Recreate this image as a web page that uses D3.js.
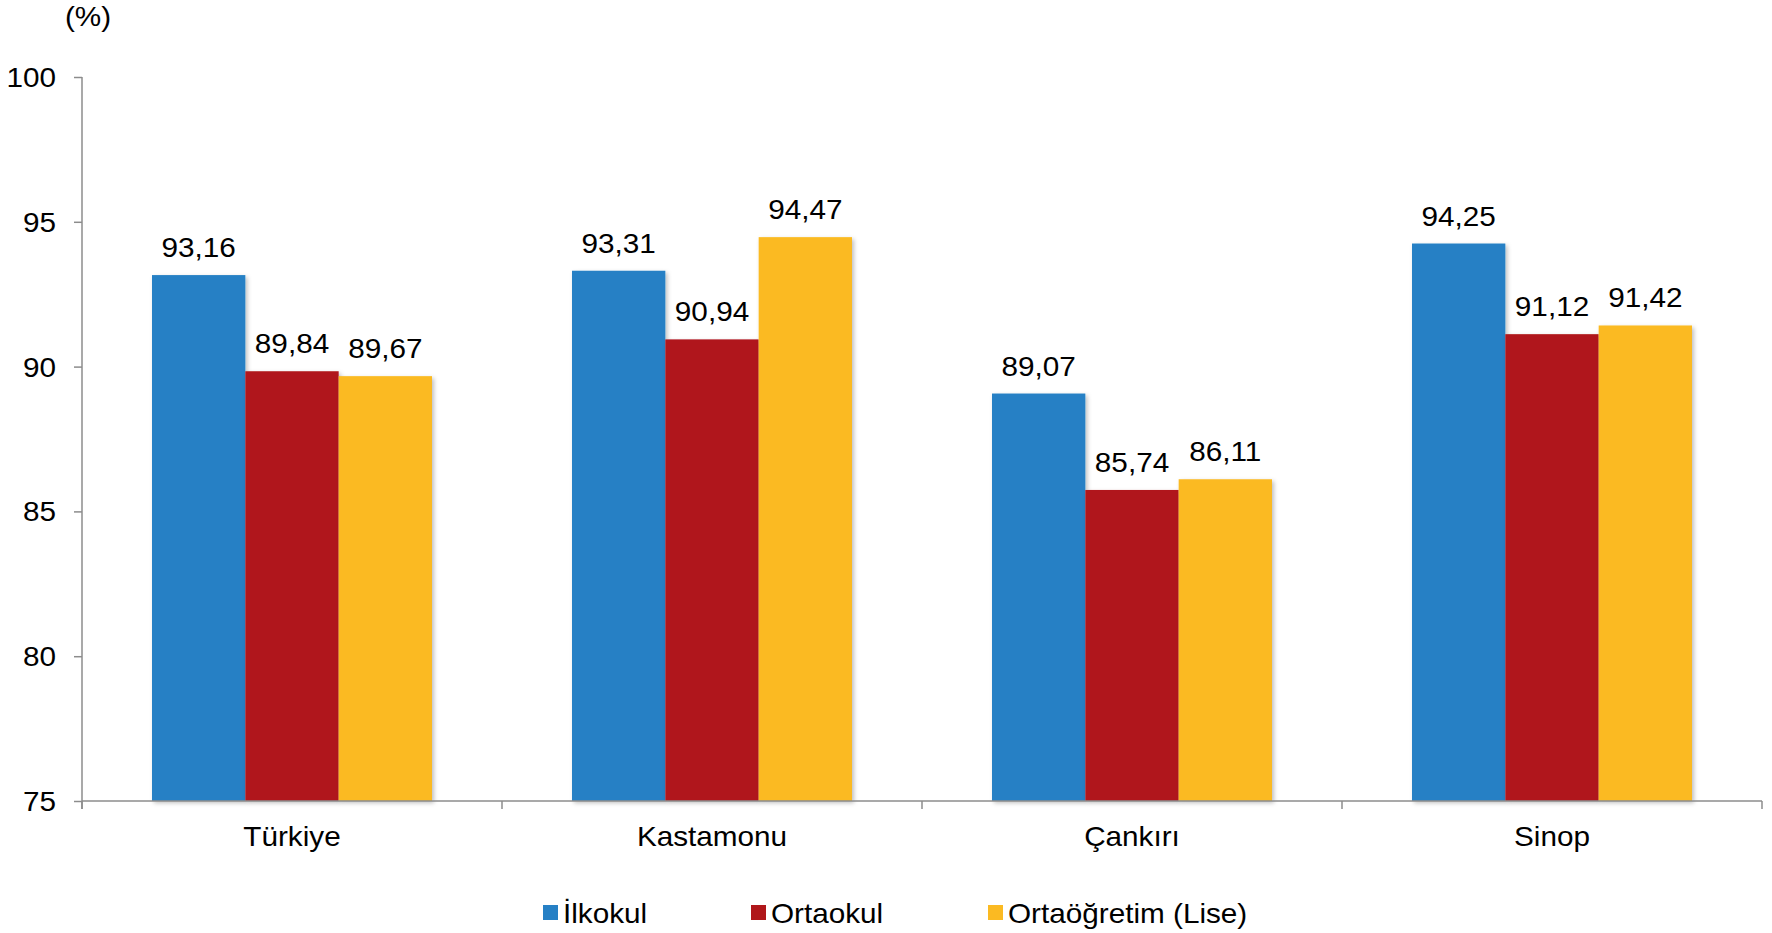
<!DOCTYPE html>
<html><head><meta charset="utf-8">
<script src="https://cdn.jsdelivr.net/npm/d3@7"></script>
<style>html,body{margin:0;padding:0;background:#fff;} svg{display:block;font-family:"Liberation Sans",Arial,sans-serif;}</style>
</head><body>
<script>
const categories = ["Türkiye", "Kastamonu", "Çankırı", "Sinop"];
const seriesNames = ["İlkokul", "Ortaokul", "Ortaöğretim (Lise)"];
const ilkokul = [93.16, 93.31, 89.07, 94.25];
const ortaokul = [89.84, 90.94, 85.74, 91.12];
const lise = [89.67, 94.47, 86.11, 91.42];
const yTicks = [75, 80, 85, 90, 95, 100];
const colors = ["#2680C5", "#B0171A", "#FBBA22"];

const W = 1772, H = 933;
const x0 = 82, x1 = 1762, yTop = 77, yBot = 801;
const FS = 27, SX = 1.1;

const svg = d3.select("body").append("svg").attr("width", W).attr("height", H);
const defs = svg.append("defs");
const f = defs.append("filter").attr("id","sh").attr("x","-10%").attr("y","-10%").attr("width","130%").attr("height","130%");
f.append("feDropShadow").attr("dx",2).attr("dy",2).attr("stdDeviation",2).attr("flood-color","#000").attr("flood-opacity",0.25);

const x = d3.scaleBand().domain(categories).range([x0, x1]).paddingInner(0).paddingOuter(0);
const inner = d3.scaleBand().domain(seriesNames).range([70, x.bandwidth() - 70]);
const y = d3.scaleLinear().domain([75, 100]).range([yBot, yTop]);

const series = [ilkokul, ortaokul, lise];
const fmt = v => v.toFixed(2).replace(".", ",");
const place = (tx, ty) => `translate(${tx},${ty}) scale(${SX},1)`;

// bars
series.forEach((vals, si) => {
  svg.append("g").selectAll("rect").data(categories).join("rect")
    .attr("x", (c) => x(c) + inner(seriesNames[si]))
    .attr("width", inner.bandwidth())
    .attr("y", (c, i) => y(vals[i]))
    .attr("height", (c, i) => y(75) - y(vals[i]))
    .attr("fill", colors[si])
    .attr("filter", "url(#sh)");
});
// labels
series.forEach((vals, si) => {
  svg.append("g").selectAll("text").data(categories).join("text")
    .attr("transform", (c, i) => place(x(c) + inner(seriesNames[si]) + inner.bandwidth() / 2, y(vals[i]) - 18))
    .attr("text-anchor", "middle")
    .attr("font-size", FS)
    .attr("fill", "#000")
    .text((c, i) => fmt(vals[i]));
});

// y axis
const yAxis = svg.append("g").attr("transform", `translate(${x0},0)`)
  .call(d3.axisLeft(y).tickValues(yTicks).tickSize(8).tickFormat(d => d));
yAxis.select(".domain").remove();
yAxis.selectAll(".tick line").attr("stroke", "#8c8c8c").attr("stroke-width", 1.5);
yAxis.selectAll(".tick text").attr("x", null).attr("dy", null)
  .attr("transform", place(-26, 9.5))
  .attr("text-anchor", "end")
  .attr("font-size", FS).attr("fill", "#000").attr("font-family", "Liberation Sans, Arial, sans-serif");
svg.append("line").attr("x1", x0).attr("x2", x0).attr("y1", yTop).attr("y2", yBot + 8)
  .attr("stroke", "#8c8c8c").attr("stroke-width", 1.5);

// x axis
svg.append("line").attr("x1", x0).attr("x2", x1).attr("y1", yBot).attr("y2", yBot)
  .attr("stroke", "#8c8c8c").attr("stroke-width", 1.5);
const bounds = categories.map(c => x(c)).concat([x1]);
svg.append("g").selectAll("line").data(bounds).join("line")
  .attr("x1", d => d).attr("x2", d => d).attr("y1", yBot).attr("y2", yBot + 8)
  .attr("stroke", "#8c8c8c").attr("stroke-width", 1.5);
svg.append("g").selectAll("text").data(categories).join("text")
  .attr("transform", c => place(x(c) + x.bandwidth() / 2, yBot + 45))
  .attr("text-anchor", "middle").attr("font-size", FS).attr("fill", "#000")
  .text(c => c);

// unit label
svg.append("text").attr("transform", place(88, 26)).attr("text-anchor", "middle")
  .attr("font-size", FS).attr("fill", "#000").text("(%)");

// legend
const legendX = [543, 751, 988];
const lg = svg.append("g").selectAll("g").data(seriesNames).join("g")
  .attr("transform", (d, i) => `translate(${legendX[i]},905)`);
lg.append("rect").attr("width", 15).attr("height", 15).attr("fill", (d, i) => colors[i]);
lg.append("text").attr("transform", place(20, 17.5)).attr("font-size", FS).attr("fill", "#000").text(d => d);
</script>
</body></html>
